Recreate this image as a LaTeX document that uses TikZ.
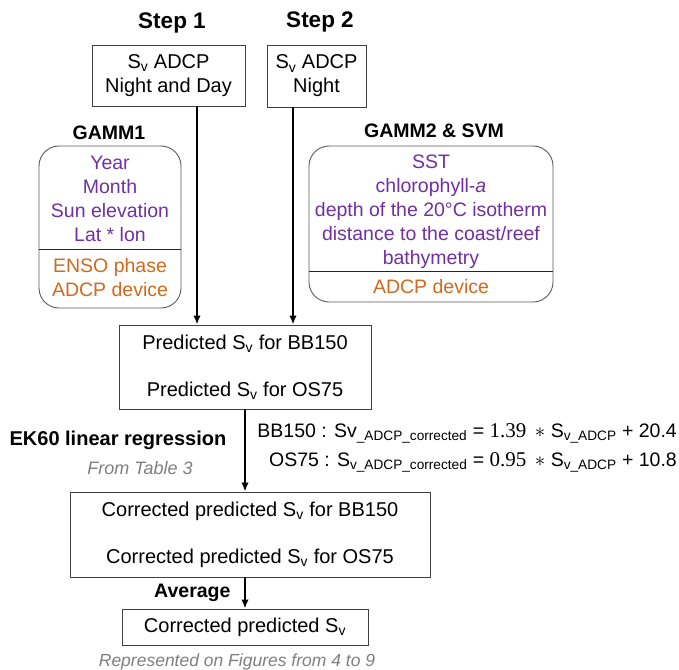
\documentclass[tikz,border=0pt]{standalone}
\usepackage{fontspec}
\setmainfont{Liberation Sans}
\newfontfamily\serifnum{Liberation Serif}
\usetikzlibrary{arrows.meta,positioning}
\definecolor{varpurple}{HTML}{7030A0}
\definecolor{varorange}{HTML}{D2691E}
\definecolor{notegray}{HTML}{7F7F7F}
\tikzset{
      flow box/.style  = {draw=black!75, line width=0.9pt, align=center, inner sep=0pt,
                          font=\fontsize{20}{24}\selectfont},
      model box/.style = {draw=black!65, line width=0.9pt, rounded corners=20pt, inner sep=0pt},
      var text/.style  = {align=center, inner sep=0pt, font=\fontsize{19.5}{24}\selectfont},
      step label/.style  = {font=\bfseries\fontsize{22.5}{27}\selectfont},
      model label/.style = {font=\bfseries\fontsize{19.5}{24}\selectfont},
      note label/.style  = {text=notegray, font=\itshape\fontsize{18}{22}\selectfont},
      eq text/.style     = {anchor=east, inner sep=0pt, font=\fontsize{19.5}{24}\selectfont},
      flow/.style = {-{Latex[length=9pt,width=7.5pt]}, line width=1.8pt},
    }
\newcommand{\eqnum}[1]{{\serifnum\fontsize{21}{24}\selectfont #1}}

\begin{document}
\begin{tikzpicture}[x=1pt,y=-1pt]
    \useasboundingbox (0,0) rectangle (679,669);
        % inputs
        \node [step label] (step1) at (172,23)  {Step 1};
        \node [step label] (step2) at (320,22)  {Step 2};
        \node [flow box, minimum width=153pt, minimum height=61pt] (svall) at (168.5,75.5)
              {S\textsubscript{v} ADCP\\Night and Day};
        \node [flow box, minimum width=99pt, minimum height=62pt] (svnight) at (316.5,76)
              {S\textsubscript{v} ADCP\\Night};

        % models
        \node [model label] (gamm1) at (109,133) {GAMM1};
        \node [model box, minimum width=142pt, minimum height=162pt] (gammbox1) at (110,227) {};
        \node [var text, text=varpurple]  (gammvar1) at (110,199) {Year\\Month\\Sun elevation\\Lat * lon};
        \node [var text, text=varorange]  (gammfac1) at (110,278) {ENSO phase\\ADCP device};
        \draw [draw=black!85, line width=0.9pt] (gammbox1.west |- 0,249) -- (gammbox1.east |- 0,249);

        \node [model label] (gamm2) at (434,131) {GAMM2 \& SVM};
        \node [model box, minimum width=244pt, minimum height=156pt] (gammbox2) at (431,224) {};
        \node [var text, text=varpurple]  (gammvar2) at (431,212)
              {SST\\chlorophyll-\textit{a}\\depth of the 20°C isotherm\\distance to the coast/reef\\bathymetry};
        \node [var text, text=varorange]  (gammfac2) at (431,287) {ADCP device};
        \draw [draw=black!85, line width=0.9pt] (gammbox2.west |- 0,271) -- (gammbox2.east |- 0,271);

        % predictions
        \node [flow box, minimum width=252pt, minimum height=84pt] (pred) at (245,367)
              {Predicted S\textsubscript{v} for BB150\\[23pt]Predicted S\textsubscript{v} for OS75};
        \node [model label, font=\bfseries\fontsize{20}{24}\selectfont] (ek60) at (118,440) {EK60 linear regression};
        \node [note label] (table3) at (140,468) {From Table 3};
        \node [eq text] (eqbb) at (677,433)
              {BB150 : Sv\textsubscript{\_ADCP\_corrected} = \eqnum{1.39} \,$\ast$ S\textsubscript{v\_ADCP} + 20.4};
        \node [eq text] (eqos) at (677,462)
              {OS75 : S\textsubscript{v\_ADCP\_corrected} = \eqnum{0.95} \,$\ast$ S\textsubscript{v\_ADCP} + 10.8};

        \node [flow box, minimum width=360pt, minimum height=85pt] (corr) at (250,534.5)
              {Corrected predicted S\textsubscript{v} for BB150\\[23pt]Corrected predicted S\textsubscript{v} for OS75};
        \node [model label, anchor=east] (avg) at (234,593) {Average};
        \node [flow box, minimum width=246pt, minimum height=36pt] (final) at (245,627)
              {Corrected predicted S\textsubscript{v}};
        \node [note label, font=\itshape\fontsize{17.5}{21}\selectfont] (figs) at (237,662)
              {Represented on Figures from 4 to 9};

        % arrows
        \draw [flow] ([xshift=28.5pt]svall.south) -- ([xshift=-48pt]pred.north);
        \draw [flow] ([xshift=-23.5pt]svnight.south) -- ([xshift=48pt]pred.north);
        \draw [flow] (pred.south) -- (pred.south |- corr.north);
        \draw [flow] (corr.south -| final.north) -- (final.north);
    \end{tikzpicture}
\end{document}
